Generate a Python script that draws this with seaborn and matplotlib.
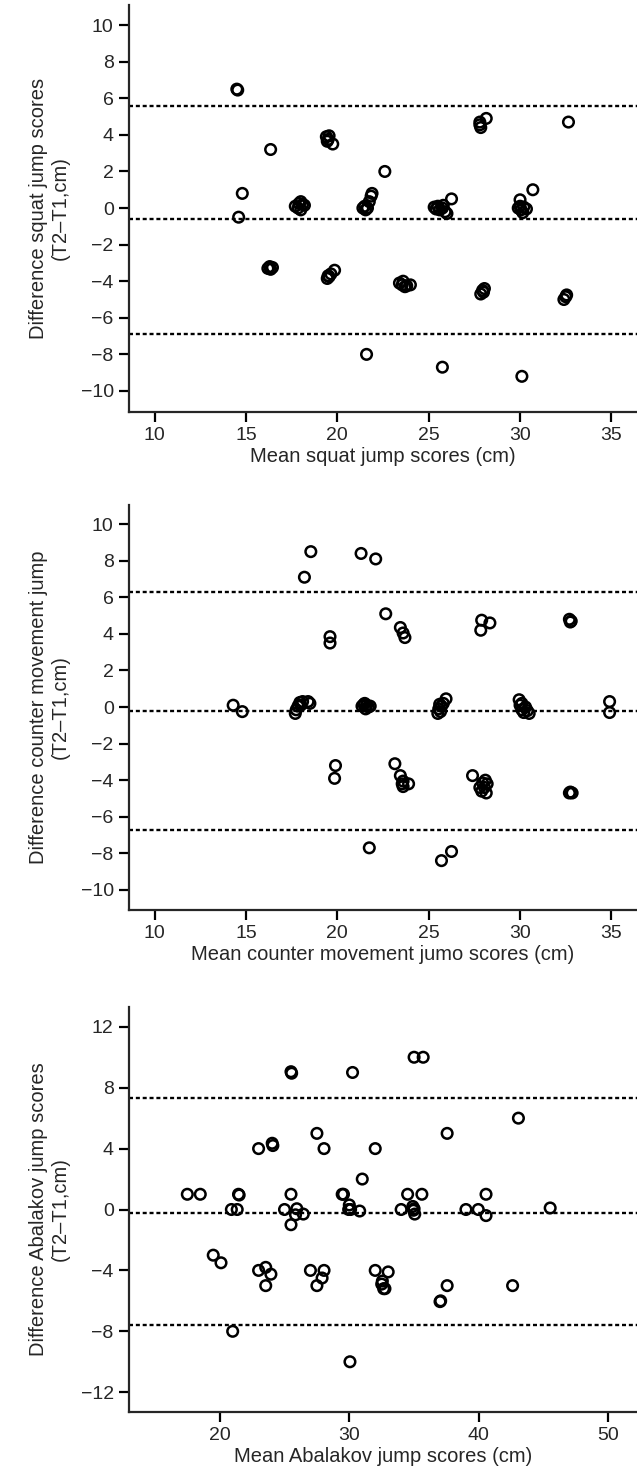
import numpy as np
import pandas as pd
import matplotlib
matplotlib.use("Agg")
import matplotlib.pyplot as plt
import seaborn as sns

sns.set_style("ticks")
plt.rcParams['font.family'] = ['Liberation Sans', 'DejaVu Sans']

# === Squat jump (mean of T1/T2 vs difference) ===
sj_mean = [14.5, 14.55, 16.35, 14.8, 14.6,
           17.7, 17.85, 18.0, 18.1, 18.2, 17.9, 18.0,
           16.2, 16.35, 16.45, 16.3,
           19.4, 19.5, 19.55, 19.75, 19.45,
           19.45, 19.55, 19.65, 19.85, 19.5,
           21.4, 21.55, 21.5, 21.65,
           21.75, 21.85, 21.9, 22.6,
           23.4, 23.55, 23.7, 23.6, 24.0, 23.8,
           25.3, 25.5, 25.6, 25.75, 25.9, 26.0, 25.8, 25.4, 26.25,
           27.8, 27.85, 27.8, 28.15,
           27.85, 27.95, 28.05, 28.0,
           29.9, 30.05, 30.2, 30.35, 30.15, 30.0, 30.0, 30.7,
           32.65, 32.4, 32.5, 32.55,
           21.6, 25.75, 30.1]
sj_diff = [6.5, 6.45, 3.2, 0.8, -0.5,
           0.1, 0.0, 0.35, 0.2, 0.15, 0.25, -0.1,
           -3.3, -3.35, -3.25, -3.2,
           3.9, 3.75, 3.95, 3.5, 3.65,
           -3.85, -3.75, -3.6, -3.4, -3.7,
           0.0, -0.1, 0.1, 0.0,
           0.35, 0.65, 0.8, 2.0,
           -4.1, -4.2, -4.3, -4.0, -4.2, -4.25,
           0.05, 0.1, -0.1, 0.0, -0.2, -0.3, 0.15, -0.05, 0.5,
           4.55, 4.4, 4.7, 4.9,
           -4.7, -4.5, -4.4, -4.6,
           0.0, -0.1, 0.05, -0.05, -0.25, 0.1, 0.45, 1.0,
           4.7, -5.0, -4.85, -4.75,
           -8.0, -8.7, -9.2]
sj_lines = [5.6, -0.6, -6.9]

# === Counter movement jump ===
cmj_mean = [18.55, 18.2, 21.3, 22.1, 22.65,
            23.45, 23.6, 23.7, 19.6, 19.6,
            27.9, 27.85, 28.35, 32.7, 32.75, 32.8,
            14.3, 14.8,
            17.7, 17.75, 17.85, 17.95, 18.1, 18.4, 18.5, 18.0,
            21.35, 21.45, 21.55, 21.6, 21.7, 21.5, 21.8,
            25.5, 25.55, 25.6, 25.65, 25.7, 25.8, 25.95,
            29.95, 30.0, 30.1, 30.2, 30.3, 30.4, 30.5, 30.1,
            34.9, 34.9,
            19.9, 19.85,
            23.15, 23.45, 23.6, 23.6, 23.9, 23.55,
            27.4, 27.95, 28.05, 27.9, 28.15, 27.8, 28.2, 28.1,
            32.7, 32.85, 32.75,
            21.75, 25.7, 26.25]
cmj_diff = [8.5, 7.1, 8.4, 8.1, 5.1,
            4.35, 4.05, 3.8, 3.85, 3.5,
            4.75, 4.2, 4.6, 4.8, 4.65, 4.7,
            0.1, -0.25,
            -0.35, -0.15, 0.05, 0.25, 0.3, 0.3, 0.2, 0.1,
            0.05, 0.15, -0.1, 0.1, 0.0, 0.2, 0.05,
            -0.35, -0.1, 0.15, -0.25, 0.05, 0.2, 0.45,
            0.4, 0.1, -0.15, -0.3, 0.0, -0.2, -0.35, 0.2,
            0.3, -0.3,
            -3.2, -3.9,
            -3.1, -3.75, -4.05, -4.35, -4.2, -4.2,
            -3.75, -4.15, -4.4, -4.6, -4.7, -4.4, -4.2, -4.0,
            -4.7, -4.7, -4.65,
            -7.7, -8.4, -7.9]
cmj_lines = [6.3, -0.2, -6.7]

# === Abalakov jump ===
abk_mean = [17.5, 18.5, 21.45, 21.5, 25.5, 29.45, 29.55, 34.5, 35.6, 40.55,
            20.9, 21.35, 25.0, 25.95, 26.45, 25.85, 25.5,
            30.0, 29.95, 30.1, 30.8,
            34.0, 34.9, 34.95, 35.05, 35.0,
            39.0, 39.95, 40.55, 45.5,
            31.0, 37.55, 43.05, 32.0, 27.5, 28.05, 23.0, 24.05, 24.1,
            25.5, 25.55, 30.25, 35.0, 35.7,
            19.5, 20.1,
            23.0, 23.55, 23.95, 23.55,
            27.0, 28.05, 27.9, 27.5,
            32.0, 33.0, 32.5, 32.65, 32.55, 32.75,
            37.55, 37.05, 37.0, 42.6,
            21.0, 30.05]
abk_diff = [1.0, 1.0, 1.0, 0.95, 1.0, 1.0, 1.0, 1.0, 1.0, 1.0,
            0.0, 0.0, 0.0, 0.05, -0.3, -0.35, -1.0,
            0.3, 0.0, 0.0, -0.1,
            0.0, 0.2, -0.05, -0.3, 0.05,
            0.0, 0.0, -0.4, 0.1,
            2.0, 5.0, 6.0, 4.0, 5.0, 4.0, 4.0, 4.35, 4.2,
            9.05, 8.95, 9.0, 10.0, 10.0,
            -3.0, -3.5,
            -4.0, -3.8, -4.25, -5.0,
            -4.0, -4.0, -4.5, -5.0,
            -4.0, -4.1, -4.9, -5.2, -4.7, -5.2,
            -5.0, -6.0, -6.05, -5.0,
            -8.0, -10.0]
abk_lines = [7.3, -0.2, -7.6]

W, H = 637, 1480
fig = plt.figure(figsize=(W / 100, H / 100), dpi=100)


def panel(top, bottom, xs, ys, lines, xlim, ylim, xticks, yticks, xlabel, ylabel):
    ax = fig.add_axes([129 / W, 1 - bottom / H, (W - 129) / W, (bottom - top) / H])
    df = pd.DataFrame({"mean": xs, "diff": ys})
    # mean difference and limits of agreement
    for v in lines:
        ax.axhline(v, color="black", lw=1.7, ls=(0, (1.7, 1.2)), zorder=2)
    sns.scatterplot(data=df, x="mean", y="diff", ax=ax, marker="o", s=58,
                    facecolor="none", edgecolor="black", linewidth=1.8,
                    legend=False, zorder=3, clip_on=False)
    ax.set_xlim(*xlim)
    ax.set_ylim(*ylim)
    ax.set_xticks(xticks)
    ax.set_yticks(yticks)
    sns.despine(ax=ax)
    for s in ["left", "bottom"]:
        ax.spines[s].set_linewidth(1.6)
    ax.tick_params(length=7, width=1.6, labelsize=14, pad=4, color="black")
    ax.set_xlabel(xlabel, fontsize=14.5, labelpad=2)
    ax.set_ylabel(ylabel, fontsize=14.5, labelpad=8, linespacing=1.15)
    return ax


panel(5, 412, sj_mean, sj_diff, sj_lines, (8.6, 36.4), (-11.15, 11.1),
      [10, 15, 20, 25, 30, 35], np.arange(-10, 11, 2),
      "Mean squat jump scores (cm)",
      "Difference squat jump scores\n(T2\u2013T1,cm)")

panel(505, 910, cmj_mean, cmj_diff, cmj_lines, (8.6, 36.4), (-11.1, 11.05),
      [10, 15, 20, 25, 30, 35], np.arange(-10, 11, 2),
      "Mean counter movement jumo scores (cm)",
      "Difference counter movement jump\n(T2\u2013T1,cm)")

panel(1007, 1412, abk_mean, abk_diff, abk_lines, (13.0, 52.2), (-13.3, 13.3),
      [20, 30, 40, 50], np.arange(-12, 13, 4),
      "Mean Abalakov jump scores (cm)",
      "Difference Abalakov jump scores\n(T2\u2013T1,cm)")

fig.savefig("out.png", dpi=100, facecolor="white")
